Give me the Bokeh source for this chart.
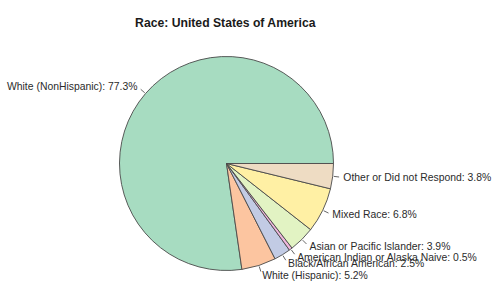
import math
from bokeh.plotting import figure
from bokeh.models import ColumnDataSource, Label
from bokeh.core.properties import value
from bokeh.embed import file_html
from bokeh.resources import INLINE

categories = ["White (NonHispanic)", "White (Hispanic)", "Black/African American",
              "American Indian or Alaska Naive", "Asian or Pacific Islander",
              "Mixed Race", "Other or Did not Respond"]
percents = [77.3, 5.2, 2.5, 0.5, 3.9, 6.8, 3.8]
colors = ["#a7dcc1", "#fcc5a0", "#c2cbe4", "#eeb6dc", "#e2f3c3", "#fff0a4", "#eedcc3"]

total = sum(percents)
starts, ends, mids = [], [], []
acc = 0.0
for v in percents:
    a0 = acc / total * 2 * math.pi
    acc += v
    a1 = acc / total * 2 * math.pi
    starts.append(a0)
    ends.append(a1)
    mids.append((a0 + a1) / 2)

PX = 107.0
W, H = 500, 296
cx, cy = 226.0, 163.0
p = figure(width=W, height=H, output_backend="svg", toolbar_location=None,
           x_range=(-cx / PX, (W - cx) / PX), y_range=(-(H - cy) / PX, cy / PX),
           min_border=0, outline_line_color=None)
p.axis.visible = False
p.grid.visible = False

src = ColumnDataSource(dict(start=starts, end=ends, color=colors))
p.wedge(x=0, y=0, radius=1.0, start_angle="start", end_angle="end",
        fill_color="color", line_color="#4a4a4a", line_width=0.9, source=src)

tx0 = [math.cos(m) * 1.01 for m in mids]
ty0 = [math.sin(m) * 1.01 for m in mids]
tx1 = [math.cos(m) * 1.06 for m in mids]
ty1 = [math.sin(m) * 1.06 for m in mids]
p.segment(x0=tx0, y0=ty0, x1=tx1, y1=ty1, line_color="#555555", line_width=0.9)

labels = [f"{c}: {v}%" for c, v in zip(categories, percents)]
lx = [math.cos(m) * 1.1 for m in mids]
ly = [math.sin(m) * 1.1 for m in mids]
align = ["left" if math.cos(m) >= 0 else "right" for m in mids]
lsrc = ColumnDataSource(dict(x=lx, y=ly, text=labels, align=align))
p.text(x="x", y="y", text="text", text_align="align", text_baseline="middle",
       text_font=value("Liberation Sans"), text_font_size="10.4px",
       text_color="#2b2b2b", source=lsrc)

title = Label(x=225, y=H - 22, x_units="screen", y_units="screen",
              text="Race: United States of America", text_align="center",
              text_baseline="middle", text_font="Liberation Sans",
              text_font_style="bold", text_font_size="12.2px", text_color="#1a1a1a")
p.add_layout(title)

open("out.html", "w").write(file_html(p, INLINE))
